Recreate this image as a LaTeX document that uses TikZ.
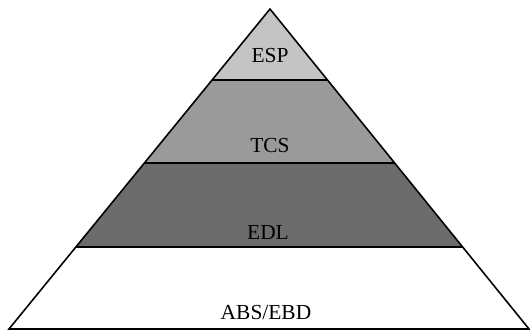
\documentclass[tikz,border=0pt]{standalone}
\usepackage{fontspec}
\setmainfont{Liberation Serif}
\usetikzlibrary{calc}
\definecolor{espgray}{HTML}{C4C4C4}
\definecolor{tcsgray}{HTML}{9A9A9A}
\definecolor{edlgray}{HTML}{6C6C6C}
\begin{document}
\begin{tikzpicture}[x=0.02cm,y=-0.02cm,lab/.style={anchor=base,font=\fontsize{12.2}{14}\selectfont}]
 \useasboundingbox (0,0) rectangle (530,330);
 \coordinate (A) at (270,9); \coordinate (L) at (9,329); \coordinate (R) at (529,329); %apex and base
 \coordinate (l1) at ($(A)!0.222!(L)$); \coordinate (r1) at ($(A)!0.222!(R)$); %ESP/TCS
 \coordinate (l2) at ($(A)!0.481!(L)$); \coordinate (r2) at ($(A)!0.481!(R)$); %TCS/EDL
 \coordinate (l3) at ($(A)!0.744!(L)$); \coordinate (r3) at ($(A)!0.744!(R)$); %EDL/ABS
 \fill[espgray] (A)--(r1)--(l1)--cycle; %ESP
 \fill[tcsgray] (l1)--(r1)--(r2)--(l2)--cycle; %TCS
 \fill[edlgray] (l2)--(r2)--(r3)--(l3)--cycle; %EDL
 \draw[line width=0.9pt] (A)--(L)--(R)--cycle; %outline
 \draw[line width=0.9pt] (l1)--(r1) (l2)--(r2) (l3)--(r3); %layer lines
 \node[lab] (esp) at (270,62.5) {ESP};
 \node[lab] (tcs) at (270,153) {TCS};
 \node[lab] (edl) at (268,240) {EDL};
 \node[lab] (abs) at (266,320) {ABS/EBD};
\end{tikzpicture}
\end{document}
